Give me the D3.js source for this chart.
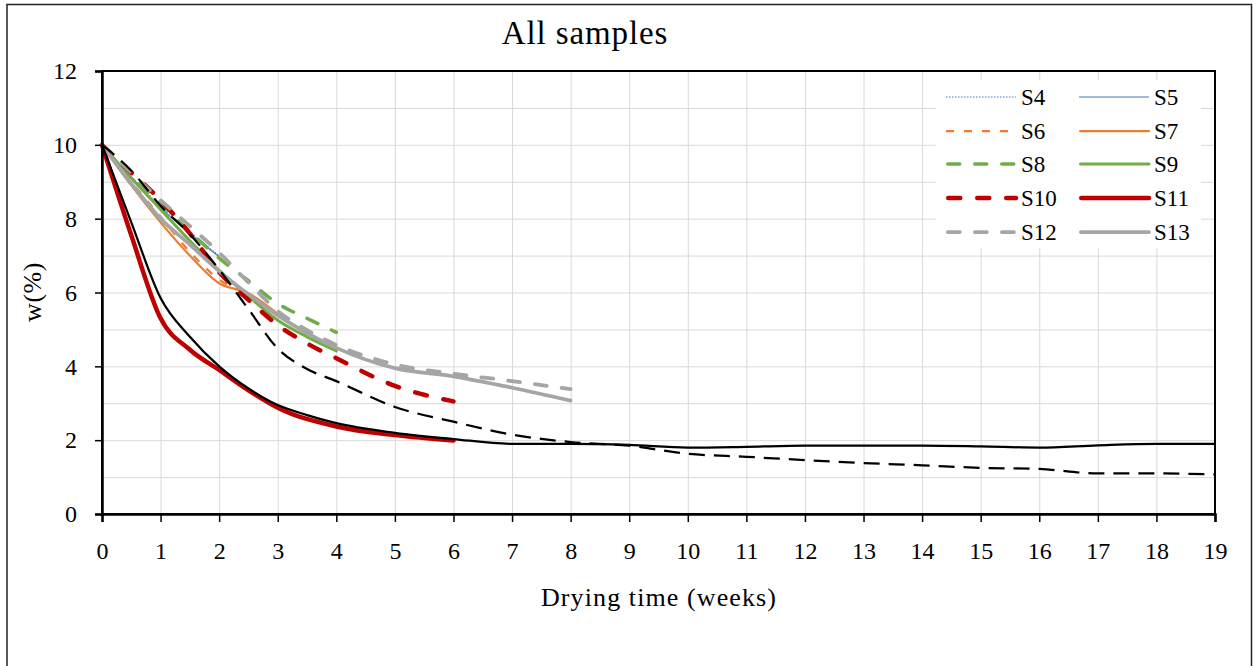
<!DOCTYPE html>
<html><head><meta charset="utf-8">
<script src="https://cdn.jsdelivr.net/npm/d3@7"></script>
<style>
body{margin:0;background:#fff;}
text{font-family:"Liberation Serif","Times New Roman",serif;fill:#000;}
</style>
</head><body>
<svg id="chart" width="1253" height="666"></svg>
<script>
// ---------- data ----------
const titleText = "All samples";
const xLabel = "Drying time (weeks)";
const yLabel = "w(%)";
const xTickValues = [0,1,2,3,4,5,6,7,8,9,10,11,12,13,14,15,16,17,18,19];
const yTickValues = [0,2,4,6,8,10,12];

const halfWeeks2 = [0,0.5,1,1.5,2];
const halfWeeks3 = [0,0.5,1,1.5,2,2.5,3];
const halfWeeks4 = [0,0.5,1,1.5,2,2.5,3,3.5,4];
const weeksS10 = [0,0.5,1,1.5,2,2.5,3,3.5,4,5,6];
const weeksS11 = [0,0.5,1,1.5,2,2.5,3,4,5,6];
const weeksS12 = [0,0.5,1,1.5,2,2.5,3,3.5,4,5,6,7,8];
const weeksLong = [0,0.5,1,1.5,2,2.5,3,3.5,4,5,6,7,8,9,10,11,12,13,14,15,16,17,18,19];

const s4 = [10,9.15,8.35,7.65,7.0];
const s5 = [10,9.1,8.3,7.6,6.97];
const s6 = [10,9.0,8.05,7.1,6.35,5.92,5.4];
const s7 = [10,8.9,7.9,7.0,6.25,5.98,5.42];
const s8 = [10,9.2,8.4,7.65,6.93,6.32,5.7,5.3,4.92];
const s9 = [10,9.1,8.25,7.4,6.6,5.9,5.25,4.8,4.42];
const s10 = [10,9.25,8.5,7.6,6.55,5.8,5.12,4.62,4.22,3.47,3.05];
const s11 = [10,7.55,5.3,4.45,3.9,3.35,2.88,2.37,2.14,1.99];
const s12 = [10,9.25,8.5,7.8,7.08,6.27,5.5,4.98,4.58,4.05,3.8,3.6,3.38];
const s13 = [10,8.95,8.0,7.3,6.58,5.95,5.38,4.9,4.5,3.95,3.73,3.42,3.07];
const blackSolid = [10,7.9,5.85,4.8,4.0,3.4,2.95,2.68,2.46,2.2,2.03,1.9,1.9,1.87,1.8,1.82,1.85,1.85,1.85,1.83,1.8,1.86,1.9,1.9];
const blackDashed = [10,9.3,8.35,7.58,6.62,5.55,4.48,3.93,3.6,2.9,2.5,2.15,1.95,1.85,1.63,1.55,1.46,1.38,1.32,1.25,1.22,1.1,1.1,1.07];

const legendNames = ["S4","S5","S6","S7","S8","S9","S10","S11","S12","S13"];

// ---------- styles ----------
const styles = {
  S4:  {color:"#4472C4", width:1,   dash:"1.5,1.5", cap:"butt"},
  S5:  {color:"#4472C4", width:1.2, dash:null, cap:"butt"},
  S6:  {color:"#ED7D31", width:2.25,dash:"8,10", cap:"butt"},
  S7:  {color:"#ED7D31", width:2.25,dash:null, cap:"round"},
  S8:  {color:"#70AD47", width:3.5, dash:"12,15", cap:"round"},
  S9:  {color:"#70AD47", width:3,   dash:null, cap:"round"},
  S10: {color:"#C00000", width:4.5, dash:"12,17", cap:"round"},
  S11: {color:"#C00000", width:4.5, dash:null, cap:"round"},
  S12: {color:"#A5A5A5", width:3.75,dash:"12,15", cap:"round"},
  S13: {color:"#A5A5A5", width:3.75,dash:null, cap:"round"},
  BS:  {color:"#000000", width:2.25,dash:null, cap:"round"},
  BD:  {color:"#000000", width:2.25,dash:"16,9", cap:"butt"}
};

const series = [
  {name:"S4", x:halfWeeks2, y:s4},
  {name:"S5", x:halfWeeks2, y:s5},
  {name:"S6", x:halfWeeks3, y:s6},
  {name:"S7", x:halfWeeks3, y:s7},
  {name:"S8", x:halfWeeks4, y:s8},
  {name:"S9", x:halfWeeks4, y:s9},
  {name:"S10", x:weeksS10, y:s10},
  {name:"S11", x:weeksS11, y:s11},
  {name:"S12", x:weeksS12, y:s12},
  {name:"S13", x:weeksS12, y:s13},
  {name:"BS", x:weeksLong, y:blackSolid},
  {name:"BD", x:weeksLong, y:blackDashed}
];

// ---------- layout ----------
const svg = d3.select("#chart");
const L = 102, R = 1215, T = 71, B = 514;
const x = d3.scaleLinear().domain([0,19]).range([L,R]);
const y = d3.scaleLinear().domain([0,12]).range([B,T]);

svg.append("rect").attr("x",0).attr("y",0).attr("width",1253).attr("height",666).attr("fill","#fff");
svg.append("rect").attr("x",7).attr("y",4.5).attr("width",1244.5).attr("height",700)
  .attr("fill","none").attr("stroke","#222").attr("stroke-width",1.5);

// gridlines
const grid = svg.append("g");
grid.selectAll("line.v").data(xTickValues.slice(1)).enter().append("line")
  .attr("x1",d=>x(d)+0.5).attr("x2",d=>x(d)+0.5).attr("y1",T).attr("y2",B)
  .attr("stroke","#d9d9d9").attr("stroke-width",1);
grid.selectAll("line.h").data(d3.range(1,12)).enter().append("line")
  .attr("y1",d=>y(d)+0.5).attr("y2",d=>y(d)+0.5).attr("x1",L).attr("x2",R)
  .attr("stroke","#d9d9d9").attr("stroke-width",1);

// series
const line = d3.line().curve(d3.curveMonotoneX);
const gLines = svg.append("g");
series.forEach(s=>{
  const st = styles[s.name];
  const pts = s.x.map((v,i)=>[x(v), y(s.y[i])]);
  gLines.append("path").attr("d",line(pts)).attr("fill","none")
    .attr("stroke",st.color).attr("stroke-width",st.width)
    .attr("stroke-dasharray",st.dash).attr("stroke-linecap",st.cap)
    .attr("stroke-linejoin","round");
});

// frame
svg.append("rect").attr("x",L).attr("y",T).attr("width",R-L).attr("height",B-T)
  .attr("fill","none").attr("stroke","#000").attr("stroke-width",2);

// axes
const xAxis = d3.axisBottom(x).tickValues(xTickValues).tickSize(8).tickPadding(20).tickFormat(d3.format("d"));
const yAxis = d3.axisLeft(y).tickValues(yTickValues).tickSize(7).tickPadding(18).tickFormat(d3.format("d"));
const gx = svg.append("g").attr("transform",`translate(0,${B})`).call(xAxis);
const gy = svg.append("g").attr("transform",`translate(${L},0)`).call(yAxis);
[gx,gy].forEach(g=>{
  g.select(".domain").attr("stroke","#000").attr("stroke-width",2.5);
  g.selectAll(".tick line").attr("stroke","#000").attr("stroke-width",1.5);
  g.selectAll(".tick text").attr("font-family","Liberation Serif").attr("font-size",24).attr("fill","#000");
});

// titles
svg.append("text").attr("x",585).attr("y",44).attr("text-anchor","middle")
  .attr("font-size",33).attr("letter-spacing",0.9).text(titleText);
svg.append("text").attr("x",659).attr("y",606).attr("text-anchor","middle")
  .attr("font-size",26).attr("letter-spacing",1.1).text(xLabel);
svg.append("text").attr("transform","translate(41,292) rotate(-90)").attr("text-anchor","middle")
  .attr("font-size",26).attr("letter-spacing",0.5).text(yLabel);

// legend
const lg = svg.append("g");
lg.append("rect").attr("x",936).attr("y",80).attr("width",265).attr("height",168).attr("fill","#fff");
const rowY = [97,131,164,198,232];
const colX = [946,1079];
legendNames.forEach((n,i)=>{
  const st = styles[n];
  const cx = colX[i%2], cy = rowY[Math.floor(i/2)];
  lg.append("line").attr("x1",cx+ (st.cap==="round"?st.width/2:0)).attr("x2",cx+70).attr("y1",cy).attr("y2",cy)
    .attr("stroke",st.color).attr("stroke-width",st.width)
    .attr("stroke-dasharray",st.dash).attr("stroke-linecap",st.cap);
  lg.append("text").attr("x",cx+75).attr("y",cy+8).attr("font-size",23).text(n);
});
</script>
</body></html>
